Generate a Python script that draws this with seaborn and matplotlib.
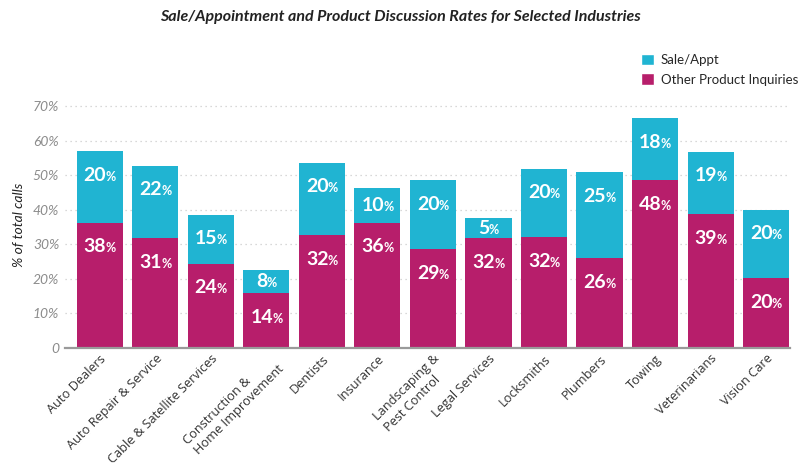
import matplotlib
matplotlib.use("Agg")
import matplotlib.pyplot as plt
import seaborn as sns
import pandas as pd
import numpy as np
from matplotlib.offsetbox import TextArea, HPacker, AnnotationBbox
from matplotlib.patches import Patch

categories = ["Auto Dealers", "Auto Repair & Service", "Cable & Satellite Services",
              "Construction &\nHome Improvement", "Dentists", "Insurance",
              "Landscaping &\nPest Control", "Legal Services", "Locksmiths",
              "Plumbers", "Towing", "Veterinarians", "Vision Care"]
# bar segment heights as drawn (percent of total calls)
other_vals = [36.3, 31.7, 24.4, 15.8, 32.6, 36.3, 28.5, 31.7, 32.1, 26.0, 48.6, 38.7, 20.2]
sale_vals = [20.6, 21.1, 14.2, 6.7, 21.0, 10.1, 20.1, 5.8, 19.8, 24.9, 17.9, 18.1, 19.8]
# printed labels
other_labels = [38, 31, 24, 14, 32, 36, 29, 32, 32, 26, 48, 39, 20]
sale_labels = [20, 22, 15, 8, 20, 10, 20, 5, 20, 25, 18, 19, 20]
y_ticks = [0, 10, 20, 30, 40, 50, 60, 70]

SALE_C = "#20b4d2"
OTHER_C = "#b71e6b"

sns.set_theme(style="white")
plt.rcParams["font.family"] = ["Lato", "DejaVu Sans"]

df = pd.DataFrame({"cat": categories, "other": other_vals, "sale": sale_vals})
df["total"] = df["other"] + df["sale"]

fig = plt.figure(figsize=(8, 4.7), dpi=100)
ax = fig.add_axes([0.081, 0.2596, 0.9065, 0.5221])

sns.barplot(data=df, x="cat", y="total", color=SALE_C, width=0.83, ax=ax,
            saturation=1, edgecolor="none")
sns.barplot(data=df, x="cat", y="other", color=OTHER_C, width=0.83, ax=ax,
            saturation=1, edgecolor="none")

ax.set_ylim(0, 71)
ax.set_xlim(-0.63, 12.43)
ax.set_yticks(y_ticks)
ax.set_yticklabels(["0"] + [f"{v}%" for v in y_ticks[1:]], fontsize=10,
                   color="#8c8c8c", style="italic")
ax.set_xticks(range(len(categories)))
ax.set_xticklabels(categories, rotation=45, ha="right", rotation_mode="anchor",
                   fontsize=9.2, color="#333333", multialignment="left",
                   family=["Open Sans", "DejaVu Sans"])
ax.tick_params(axis="both", length=0, pad=4)
ax.tick_params(axis="x", pad=3)
ax.set_xlabel("")
ax.set_ylabel("% of total calls", fontsize=10, style="italic", color="#222222", labelpad=6)
for y in y_ticks[1:]:
    ax.axhline(y, color="#cccccc", lw=0.9, ls=(0, (1, 3)), zorder=0)
for s in ["top", "right", "left"]:
    ax.spines[s].set_visible(False)
ax.spines["bottom"].set_color("#9a9a9a")
ax.spines["bottom"].set_linewidth(1.6)
ax.set_axisbelow(True)


def put_label(x, y, num):
    t1 = TextArea(str(num), textprops=dict(color="white", fontsize=14, fontweight="bold"))
    t2 = TextArea("%", textprops=dict(color="white", fontsize=9, fontweight="bold"))
    box = HPacker(children=[t1, t2], align="baseline", pad=0, sep=-0.5)
    ab = AnnotationBbox(box, (x, y), frameon=False, box_alignment=(0.5, 0.5), pad=0)
    ax.add_artist(ab)


for i in range(len(categories)):
    o = other_vals[i]
    s = sale_vals[i]
    yo = o - min(7.0, o / 2)
    ys = o + s - min(7.0, s / 2)
    put_label(i, yo, other_labels[i])
    put_label(i, ys, sale_labels[i])

fig.text(0.5, 0.963, "Sale/Appointment and Product Discussion Rates for Selected Industries",
         ha="center", va="center", fontsize=11.5, fontweight="bold", style="italic",
         color="#222222")

handles = [Patch(facecolor=SALE_C, label="Sale/Appt"),
           Patch(facecolor=OTHER_C, label="Other Product Inquiries")]
fig.legend(handles=handles, loc="upper left", bbox_to_anchor=(0.793, 0.9),
           frameon=False, fontsize=9.5, handlelength=1.0, handleheight=1.0,
           handletextpad=0.5, labelspacing=0.55, borderpad=0)

fig.savefig("out.png", dpi=100)
